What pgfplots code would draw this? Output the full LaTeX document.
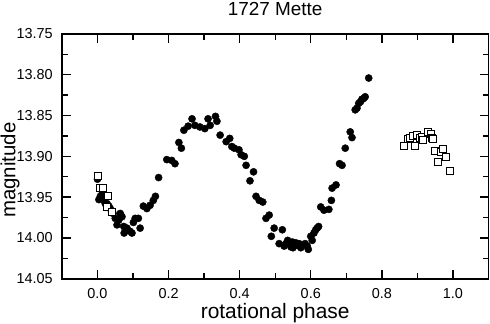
\documentclass[border=0pt]{standalone}
\usepackage{pgfplots}
\pgfplotsset{compat=1.18}
\usepackage{fontspec}
\setmainfont{Liberation Sans}

% phase, magnitude
\pgfplotstableread{
x y
0.000 13.928
0.004 13.953
0.008 13.949
0.013 13.946
0.018 13.954
0.022 13.958
0.027 13.958
0.032 13.961
0.036 13.964
0.044 13.970
0.050 13.976
0.055 13.984
0.060 13.978
0.064 13.970
0.069 13.974
0.074 13.986
0.075 13.994
0.083 13.988
0.092 13.992
0.097 13.994
0.101 13.981
0.106 13.976
0.115 13.976
0.120 13.988
0.129 13.961
0.139 13.964
0.148 13.960
0.157 13.954
0.163 13.949
0.172 13.926
0.195 13.904
0.209 13.905
0.218 13.909
0.229 13.883
0.236 13.890
0.243 13.868
0.255 13.863
0.266 13.854
0.274 13.862
0.288 13.864
0.302 13.866
0.311 13.854
0.317 13.862
0.332 13.851
0.336 13.857
0.345 13.874
0.362 13.882
0.372 13.878
0.378 13.888
0.385 13.890
0.398 13.892
0.404 13.898
0.413 13.900
0.418 13.911
0.429 13.930
0.439 13.919
0.446 13.949
0.455 13.954
0.465 13.956
0.474 13.976
0.483 13.972
0.489 13.998
0.497 13.988
0.511 14.007
0.520 13.990
0.525 14.010
0.530 14.007
0.535 14.003
0.544 14.011
0.548 14.005
0.550 14.012
0.558 14.006
0.562 14.009
0.567 14.007
0.572 14.012
0.576 14.009
0.584 14.007
0.590 14.010
0.593 14.014
0.600 13.998
0.604 14.003
0.609 13.994
0.614 13.990
0.618 13.988
0.622 13.986
0.628 13.962
0.637 13.966
0.651 13.965
0.658 13.954
0.660 13.939
0.671 13.935
0.681 13.909
0.688 13.911
0.697 13.890
0.711 13.870
0.716 13.877
0.725 13.843
0.730 13.841
0.735 13.835
0.740 13.833
0.744 13.830
0.749 13.829
0.753 13.827
0.763 13.804
}\filled

\pgfplotstableread{
x y
0.000 13.924
0.008 13.939
0.016 13.939
0.029 13.948
0.027 13.962
0.041 13.968
0.863 13.887
0.872 13.879
0.879 13.877
0.888 13.875
0.892 13.887
0.900 13.874
0.907 13.878
0.913 13.876
0.916 13.880
0.930 13.870
0.938 13.872
0.940 13.877
0.944 13.879
0.949 13.893
0.958 13.907
0.966 13.895
0.972 13.891
0.981 13.901
0.991 13.918
}\open

\begin{document}
\begin{tikzpicture}
\begin{axis}[
scale only axis,width=427bp,height=245bp,
xmin=-0.1,xmax=1.1,ymin=13.75,ymax=14.05,y dir=reverse,
xtick={0,0.2,0.4,0.6,0.8,1.0},
ytick={13.75,13.80,13.85,13.90,13.95,14.00,14.05},
minor x tick num=1,minor y tick num=1,
tick align=inside,
major tick length=9bp,minor tick length=6bp,
axis line style={line width=1.6bp},
every tick/.style={line width=1.4bp,black},
/pgf/number format/assume math mode=true,
x tick label style={anchor=base,inner sep=0pt,yshift=-20bp,font=\fontsize{14.5}{14.5}\selectfont,
  /pgf/number format/fixed,/pgf/number format/fixed zerofill,/pgf/number format/precision=1},
y tick label style={anchor=east,inner sep=0pt,xshift=-9bp,font=\fontsize{14.5}{14.5}\selectfont,
  /pgf/number format/fixed,/pgf/number format/fixed zerofill,/pgf/number format/precision=2},
xlabel={rotational phase},
ylabel={magnitude},
title={1727 Mette},
xlabel style={at={(axis description cs:0.5,-0.1635)},anchor=base,inner sep=0pt,font=\fontsize{21}{21}\selectfont},
ylabel style={at={(axis description cs:-0.1218,0.444)},anchor=center,inner sep=0pt,font=\fontsize{20.5}{20.5}\selectfont},
title style={at={(axis description cs:0.5,1.05)},anchor=base,yshift=0pt,inner sep=0pt,font=\fontsize{19}{19}\selectfont},
]
\addplot[only marks,mark=*,mark size=3.6bp,black] table {\filled};
\addplot[only marks,mark=square*,mark size=3.5bp,draw=black,fill=white,line width=0.9bp] table {\open};
\end{axis}
\pgfresetboundingbox
\path[use as bounding box] (-62bp,-45.3bp) rectangle (428.5bp,279bp);
\end{tikzpicture}
\end{document}
